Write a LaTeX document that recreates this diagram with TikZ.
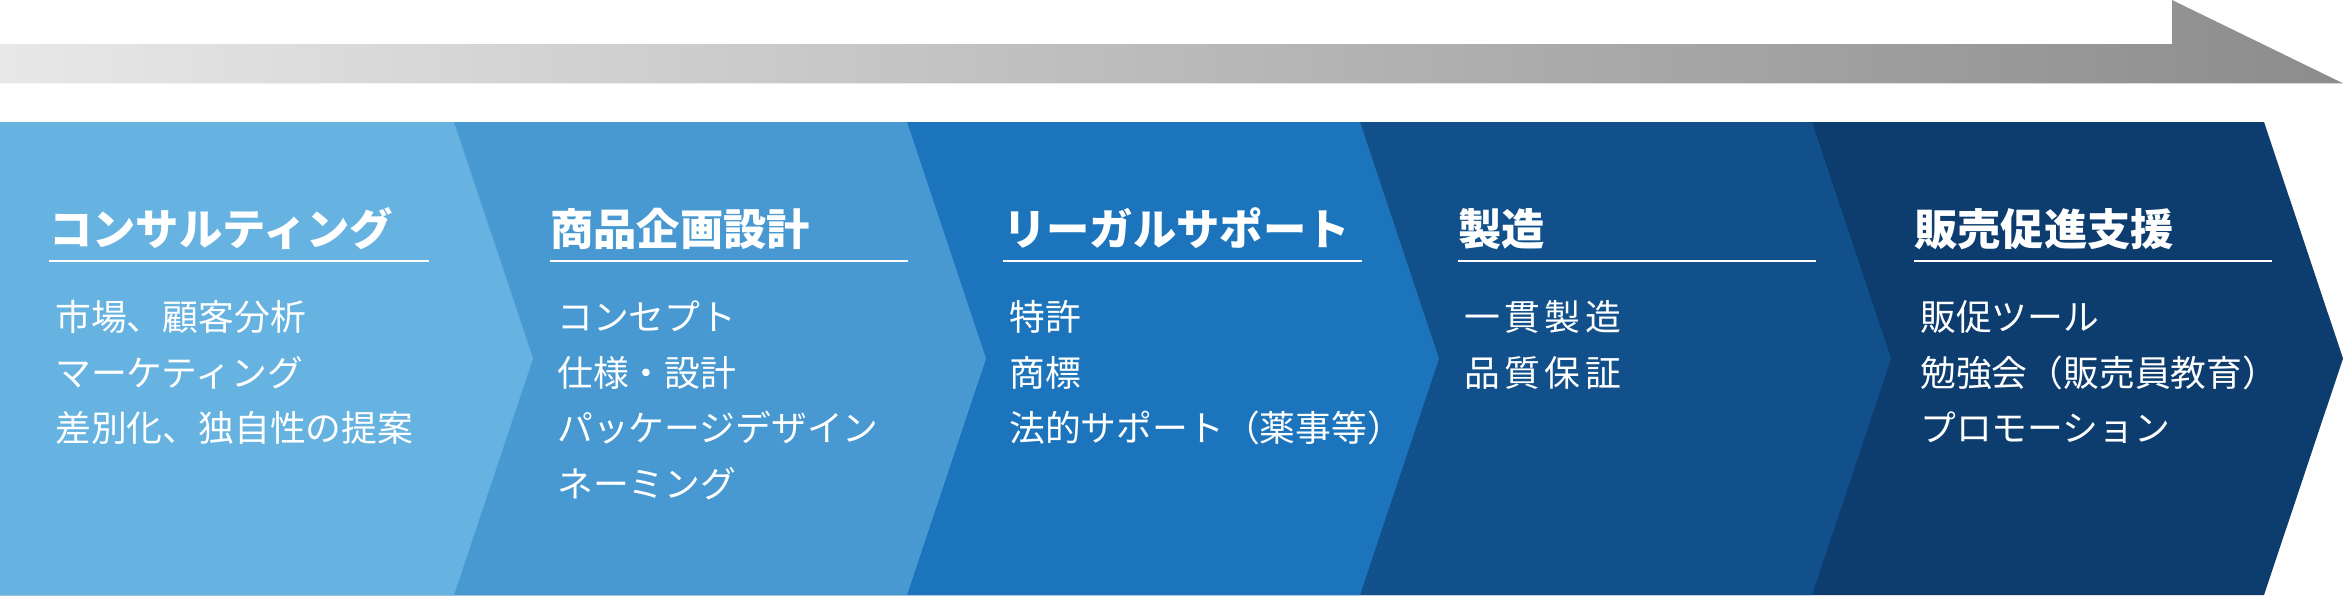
\documentclass[tikz,border=0pt]{standalone}
\usepackage{fontspec}
\newfontfamily\jp{Noto Sans CJK JP}
\definecolor{cA}{HTML}{66B3E1}
\definecolor{cB}{HTML}{4899D1}
\definecolor{cC}{HTML}{1C75BC}
\definecolor{cD}{HTML}{11508B}
\definecolor{cE}{HTML}{0D3C6E}
\definecolor{gL}{HTML}{E8E8E8}
\definecolor{gR}{HTML}{8C8C8C}
\newcommand{\ls}{\hspace{4.5pt}}
\begin{document}
\begin{tikzpicture}[x=1pt,y=-1pt,
  ttl/.style={anchor=base west,inner sep=0pt,text=white,font=\jp\bfseries\fontsize{43.3}{50}\selectfont},
  itm/.style={anchor=base west,inner sep=0pt,text=white,font=\jp\fontsize{35.8}{42}\selectfont},
  uline/.style={draw=white,line width=2pt}]
\useasboundingbox (0,0) rectangle (2344,595);
\fill[white] (0,0) rectangle (2344,595);
% top arrow
\shade[left color=gL,right color=gR] (0,44) -- (2172,44) -- (2172,0) -- (2343,83.3) -- (0,83.3) -- cycle;
% chevrons
\fill[cE] (0,122) -- (2264,122) -- (2343,358.5) -- (2264,595) -- (0,595) -- cycle;
\fill[cD] (0,122) -- (1812,122) -- (1891,358.5) -- (1812,595) -- (0,595) -- cycle;
\fill[cC] (0,122) -- (1360,122) -- (1439,358.5) -- (1360,595) -- (0,595) -- cycle;
\fill[cB] (0,122) -- (907,122) -- (986,358.5) -- (907,595) -- (0,595) -- cycle;
\fill[cA] (0,122) -- (454,122) -- (533,358.5) -- (454,595) -- (0,595) -- cycle;
% titles
\node[ttl] (t1) at (49,245.5) {コンサルティング};
\node[ttl] (t2) at (550,245.5) {商品企画設計};
\node[ttl] (t3) at (1003,245.5) {リーガルサポート};
\node[ttl] (t4) at (1458,245.5) {製造};
\node[ttl] (t5) at (1914,245.5) {販売促進支援};
% underlines
\coordinate (u1a) at (49,261); \coordinate (u1b) at (429,261);
\coordinate (u2a) at (550,261); \coordinate (u2b) at (908,261);
\coordinate (u3a) at (1003,261); \coordinate (u3b) at (1362,261);
\coordinate (u4a) at (1458,261); \coordinate (u4b) at (1816,261);
\coordinate (u5a) at (1914,261); \coordinate (u5b) at (2272,261);
\draw[uline] (u1a) -- (u1b);
\draw[uline] (u2a) -- (u2b);
\draw[uline] (u3a) -- (u3b);
\draw[uline] (u4a) -- (u4b);
\draw[uline] (u5a) -- (u5b);
% items
\node[itm] (a1) at (55,330.5) {市場、顧客分析};
\node[itm] (a2) at (55,386.2) {マーケティング};
\node[itm] (a3) at (55,441.9) {差別化、独自性の提案};
\node[itm] (b1) at (557,330.5) {コンセプト};
\node[itm] (b2) at (557,386.2) {仕様・設計};
\node[itm] (b3) at (557,441.9) {パッケージデザイン};
\node[itm] (b4) at (557,497.6) {ネーミング};
\node[itm] (c1) at (1009,330.5) {特許};
\node[itm] (c2) at (1009,386.2) {商標};
\node[itm] (c3) at (1009,441.9) {法的サポート（薬事等）};
\node[itm] (d1) at (1464,330.5) {一\ls 貫\ls 製\ls 造};
\node[itm] (d2) at (1464,386.2) {品\ls 質\ls 保\ls 証};
\node[itm] (e1) at (1920,330.5) {販促ツール};
\node[itm] (e2) at (1920,386.2) {勉強会（販売員教育）};
\node[itm] (e3) at (1920,441.9) {プロモーション};
\end{tikzpicture}
\end{document}
